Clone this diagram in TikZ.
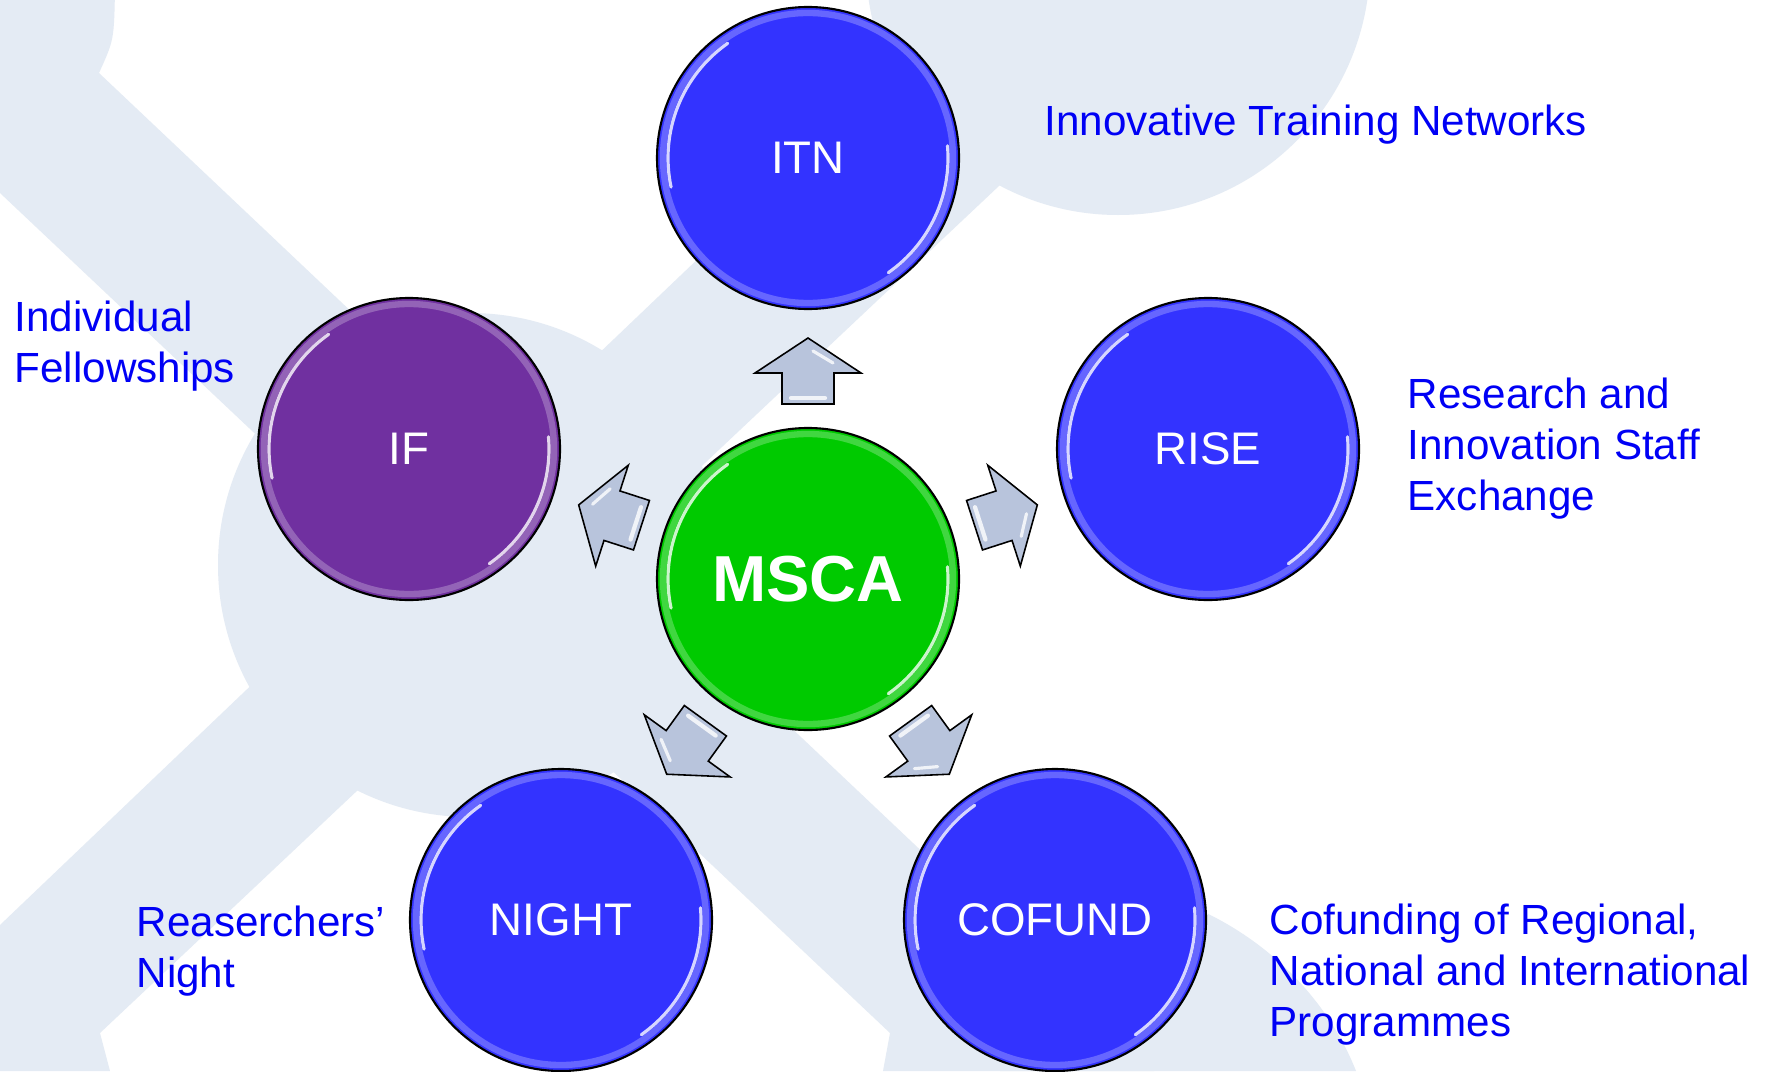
\documentclass[tikz,border=0pt]{standalone}
\usepackage{fontspec}
\setmainfont{Liberation Sans}
\usetikzlibrary{
  positioning, % for above left=... of
  calc}
\definecolor{logogrey}{RGB}{228,235,244}
\definecolor{capblue}{RGB}{51,51,255}
\definecolor{ifpurple}{RGB}{112,48,160}
\definecolor{mscagreen}{RGB}{0,202,0}
\definecolor{noteblue}{RGB}{0,0,245}
\definecolor{arrowgrey}{RGB}{184,196,220}
\tikzstyle{bubble} = [circle, draw=black, line width=0.6pt, minimum size=3.02cm, inner sep=0pt, text=white, font=\fontsize{13}{15}\selectfont]
\tikzstyle{hub} = [bubble, fill=mscagreen, font=\fontsize{18.5}{20}\selectfont\bfseries]
\tikzstyle{note} = [anchor=north west, align=left, inner sep=0pt, text=noteblue, font=\fontsize{12}{14.5}\selectfont]
\tikzstyle{pointer} = [draw=black, line width=0.45pt, fill=arrowgrey, line join=miter]
\tikzstyle{shine} = [white, line width=0.9pt, line cap=round, opacity=0.8]
\tikzstyle{backdrop} = [fill=logogrey]

\newcommand{\gloss}[1]{%
  \draw[white, opacity=0.25, line width=1.8pt] (#1.center) circle (1.45);
  \draw[shine] ([shift={(125:1.40)}]#1.center) arc (125:192:1.40);
  \draw[shine] ([shift={(5:1.40)}]#1.center) arc (5:-55:1.40);
}
\newcommand{\spoke}[1]{%
  \begin{scope}[shift={(msca)}, rotate=#1]
    \filldraw[pointer] (1.75,0.26) -- (2.06,0.26) -- (2.06,0.53) -- (2.41,0) -- (2.06,-0.53) -- (2.06,-0.26) -- (1.75,-0.26) -- cycle;
    \draw[shine, line width=1.2pt] (1.81,-0.17) -- (1.81,0.17);
    \draw[shine] (2.28,-0.05) -- (2.16,-0.25);
  \end{scope}
}

\begin{document}
\begin{tikzpicture}[on grid, node distance=3cm]

\useasboundingbox (0,0) rectangle (17.68,-10.71);
\fill[white] (0,0) rectangle (17.68,-10.71);

% logo in the back
\begin{scope}
\clip (0,0) rectangle (17.68,-10.71);
\fill[backdrop] (0,0.1) -- (1.15,0.1) .. controls (1.14,-0.4) .. (0.99,-0.73) -- (11.54,-10.71) -- (8.83,-10.71) -- (8.90,-10.33) -- (0,-1.93) -- cycle;
\fill[backdrop] (0,-9.25) -- (9.00,-0.66) -- (10.50,-0.40) -- (10.00,-1.85) -- (1.00,-10.33) -- (1.10,-10.71) -- (0,-10.71) -- cycle;
\fill[backdrop] (4.70,-5.65) circle (2.52);
\fill[backdrop] (11.18,0.37) circle (2.52);
\fill[backdrop] (9.50,-8.70) -- (12.02,-9.11) .. controls (12.75,-9.45) and (13.30,-10.05) .. (13.56,-10.71) -- (10.00,-10.71) -- cycle;
\end{scope}

\node[hub] (msca) at (8.08,-5.79) {MSCA};
\node[bubble, fill=capblue, above=4.21cm of msca] (itn) {ITN};
\node[bubble, fill=ifpurple, above left=1.30cm and 3.99cm of msca] (fif) {IF};
\node[bubble, fill=capblue, above right=1.30cm and 4.00cm of msca] (rise) {RISE};
\node[bubble, fill=capblue, below left=3.41cm and 2.47cm of msca] (night) {NIGHT};
\node[bubble, fill=capblue, below right=3.41cm and 2.47cm of msca] (cofund) {COFUND};

\gloss{msca} \gloss{itn} \gloss{fif} \gloss{rise} \gloss{night} \gloss{cofund}

\spoke{90} \spoke{162.1} \spoke{17.9} \spoke{234.1} \spoke{-54.1}

\node[note] (litn) at (10.44,-1.04) {Innovative Training Networks};
\node[note] (lif) at (0.14,-3.00) {Individual\\Fellowships};
\node[note] (lrise) at (14.07,-3.77) {Research and\\Innovation Staff\\Exchange};
\node[note] (lnight) at (1.36,-9.05) {Reaserchers’\\Night};
\node[note] (lcofund) at (12.69,-9.03) {Cofunding of Regional,\\National and International\\Programmes};

\end{tikzpicture}
\end{document}
